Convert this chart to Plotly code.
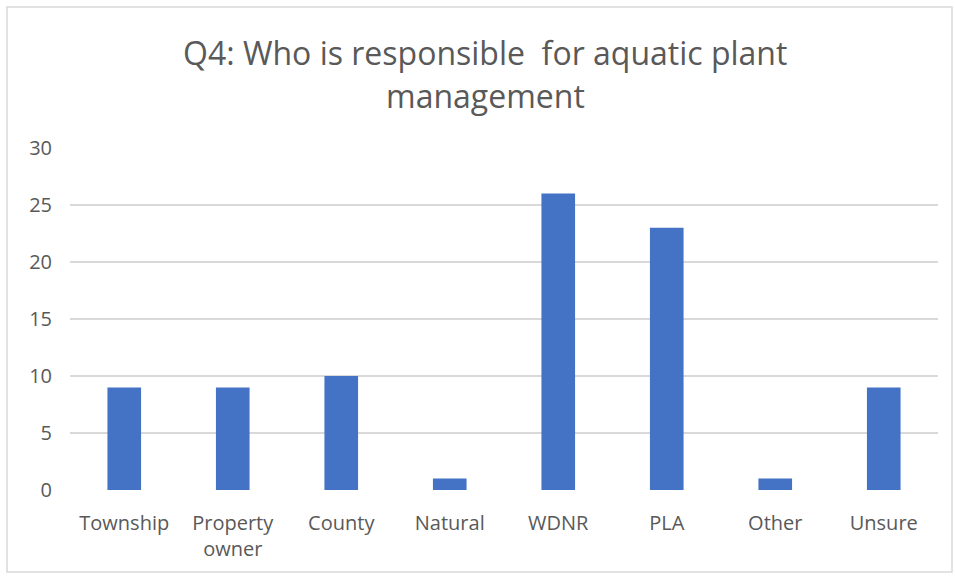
import plotly.graph_objects as go

categories = ["Township", "Property<br>owner", "County", "Natural", "WDNR", "PLA", "Other", "Unsure"]
values = [9, 9, 10, 1, 26, 23, 1, 9]
y_ticks = [0, 5, 10, 15, 20, 25, 30]

title_lines = ["Q4: Who is responsible  for aquatic plant", "management"]

W, H = 955, 579
L, R, T, B = 70, 17, 148, 89
pw = W - L - R
ph = H - T - B

def px_x(px):
    return (px - L) / pw

def px_y(py):
    return (H - B - py) / ph

fig = go.Figure()
fig.add_trace(go.Bar(
    x=categories, y=values,
    marker=dict(color="#4472C4", line=dict(width=0)),
    width=0.31,
))

title_y = [52, 96]
annotations = [dict(
    text=line, xref="paper", yref="paper",
    x=px_x(485), y=px_y(yy), xanchor="center", yanchor="middle",
    showarrow=False, align="center",
    font=dict(size=32, color="#595959", family="Open Sans"),
) for line, yy in zip(title_lines, title_y)]

fig.update_layout(
    width=W, height=H,
    margin=dict(l=L, r=R, t=T, b=B, autoexpand=False),
    paper_bgcolor="white", plot_bgcolor="white",
    showlegend=False,
    font=dict(family="Open Sans", color="#595959"),
    xaxis=dict(
        showgrid=False, zeroline=False, showline=False,
        ticks="", tickfont=dict(size=20, color="#595959"),
        ticklabelstandoff=19,
    ),
    yaxis=dict(
        range=[0, 30], tickvals=y_ticks,
        showgrid=True, gridcolor="#D9D9D9", gridwidth=1.5,
        zeroline=False, showline=False, ticks="",
        tickfont=dict(size=20, color="#595959"),
        ticklabelstandoff=17,
    ),
    shapes=[dict(
        type="rect", xref="paper", yref="paper",
        x0=px_x(7), x1=px_x(952), y0=px_y(572), y1=px_y(7),
        line=dict(color="#D9D9D9", width=1.5), fillcolor="rgba(0,0,0,0)",
        layer="below",
    )],
    annotations=annotations,
)

fig.write_html(
    "out.html",
    config={"displayModeBar": False},
    post_script="document.body.style.margin='0';document.body.style.overflow='hidden';",
)
